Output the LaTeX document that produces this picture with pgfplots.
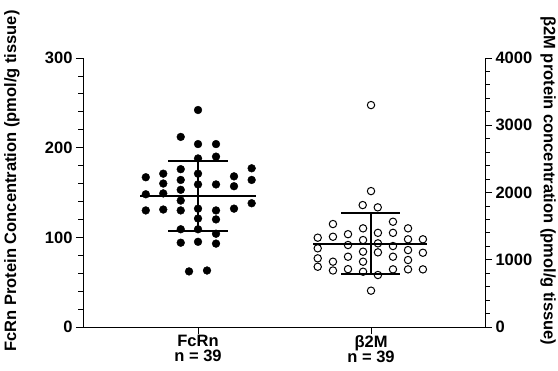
\documentclass[border=0pt]{standalone}
\usepackage{fontspec}
\setmainfont{Liberation Sans}
\usepackage{pgfplots}
\pgfplotsset{compat=1.18}
\begin{document}
\begin{tikzpicture}
\pgfplotsset{
 common/.style={
  scale only axis, width=402pt, height=269pt,
  xmin=0.335, xmax=2.659,
  tick align=outside,
  major tick length=7pt, minor tick length=4.5pt,
  every tick/.style={black, line width=0.8pt},
  axis line style={line width=0.9pt},
  tick label style={font=\bfseries\fontsize{16.5}{18}\selectfont},
  /pgf/number format/assume math mode=true,
  /pgf/number format/1000 sep={},
  clip=false,
 }
}
\begin{axis}[common, name=ax,
  axis x line*=bottom, axis y line*=left,
  ymin=0, ymax=300, ytick={0,100,200,300}, minor y tick num=4,
  xtick={1,2}, xticklabels={FcRn\\n = 39, β2M\\n = 39},
  xticklabel style={align=center, yshift=2pt},
  x tick label style={font=\bfseries\fontsize{16.5}{15}\selectfont},
]
\addplot[only marks, mark=*, mark size=3.9pt, black] coordinates {
(0.698,167) (0.698,148) (0.698,130)
(0.799,171) (0.799,160) (0.799,149) (0.799,131)
(0.900,212) (0.900,176) (0.900,164) (0.900,153) (0.900,141) (0.900,130) (0.900,109) (0.900,94)
(1.000,242) (1.000,204) (1.000,188) (1.000,171) (1.000,159) (1.000,132) (1.000,121) (1.000,109) (1.000,95)
(0.948,62) (1.052,63)
(1.104,204) (1.104,190) (1.104,159) (1.104,130) (1.104,120) (1.104,104) (1.104,93)
(1.208,168) (1.208,157) (1.208,132)
(1.310,177) (1.310,164) (1.310,138)
};
\addplot[black, line width=2.2pt] coordinates {(0.665,146.5) (1.335,146.5)};
\addplot[black, line width=2.2pt] coordinates {(0.827,185.5) (1.173,185.5)};
\addplot[black, line width=2.2pt] coordinates {(0.827,107.5) (1.173,107.5)};
\addplot[black, line width=2.2pt] coordinates {(1,107.5) (1,185.5)};
\node[rotate=90, font=\bfseries\fontsize{16.5}{18}\selectfont] at (rel axis cs:-0.1766,0.543) {FcRn Protein Concentration (pmol/g tissue)};
\end{axis}
\begin{axis}[common,
  axis x line=none, axis y line*=right,
  ymin=0, ymax=4000, ytick={0,1000,2000,3000,4000}, minor y tick num=4,
]
\addplot[only marks, mark=o, mark size=3.7pt, black, line width=1pt] coordinates {
(2.0,3300) (2.0,2021) (2.0,540)
(1.952,1813) (2.039,1779)
(1.692,1328) (1.692,1170) (1.692,1021) (1.692,896)
(1.780,1531) (1.780,1342) (1.780,971) (1.780,840)
(1.867,1380) (1.867,1219) (1.867,1045) (1.867,860)
(1.954,1467) (1.954,1293) (1.954,1120) (1.954,971) (1.954,822)
(2.040,1400) (2.040,1244) (2.040,1110) (2.040,773)
(2.127,1565) (2.127,1400) (2.127,1204) (2.127,1045) (2.127,857)
(2.214,1467) (2.214,1304) (2.214,1144) (2.214,996) (2.214,857)
(2.300,1304) (2.300,1104) (2.300,857)
};
\addplot[black, line width=2.2pt] coordinates {(1.665,1236) (2.324,1236)};
\addplot[black, line width=2.2pt] coordinates {(1.827,1690) (2.168,1690)};
\addplot[black, line width=2.2pt] coordinates {(1.827,783) (2.168,783)};
\addplot[black, line width=2.2pt] coordinates {(2,783) (2,1690)};
\node[rotate=-90, font=\bfseries\fontsize{16.5}{18}\selectfont] at (rel axis cs:1.157,0.543) {β2M protein concentration (pmol/g tissue)};
\end{axis}
\pgfresetboundingbox
\path[use as bounding box] (ax.south west) ++(-83pt,-44pt) rectangle ++(558pt,371pt);
\end{tikzpicture}
\end{document}
